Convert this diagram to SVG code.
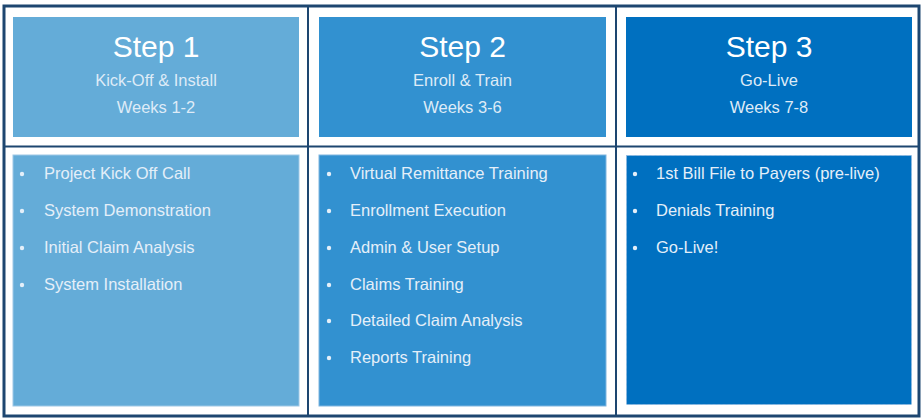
<svg xmlns="http://www.w3.org/2000/svg" width="924" height="420" viewBox="0 0 924 420">
<style>
.frame{fill:none;stroke:#1d4670;}
.hdr text,.body text{font-family:"Liberation Sans",Arial,sans-serif;}
.title{font-size:30px;fill:#ffffff;text-anchor:middle;}
.sub{font-size:16.5px;fill:#deebf7;text-anchor:middle;}
.item{font-size:16.5px;fill:#e4eff9;}
.dot{fill:#e4eff9;}
.c1{fill:#64acd8;}
.c2{fill:#3291d0;}
.c3{fill:#0070c0;}
</style>
<rect x="0" y="0" width="924" height="420" fill="#ffffff"/>
<g id="grid">
<rect class="frame" x="4" y="6" width="915" height="410" stroke-width="3"/>
<line class="frame" x1="4" y1="146.5" x2="919" y2="146.5" stroke-width="2"/>
<line class="frame" x1="308" y1="6" x2="308" y2="416" stroke-width="2"/>
<line class="frame" x1="616" y1="6" x2="616" y2="416" stroke-width="2"/>
</g>
<g id="step1-header" class="hdr">
<rect class="c1" x="13" y="17" width="286" height="120"/>
<text class="title" x="156" y="57">Step 1</text>
<text class="sub" x="156" y="86">Kick-Off &amp; Install</text>
<text class="sub" x="156" y="113">Weeks 1-2</text>
</g>
<g id="step2-header" class="hdr">
<rect class="c2" x="319" y="17" width="287" height="120"/>
<text class="title" x="462.5" y="57">Step 2</text>
<text class="sub" x="462.5" y="86">Enroll &amp; Train</text>
<text class="sub" x="462.5" y="113">Weeks 3-6</text>
</g>
<g id="step3-header" class="hdr">
<rect class="c3" x="626" y="17" width="286" height="120"/>
<text class="title" x="769" y="57">Step 3</text>
<text class="sub" x="769" y="86">Go-Live</text>
<text class="sub" x="769" y="113">Weeks 7-8</text>
</g>
<g id="step1-body" class="body">
<rect class="c1" x="13" y="155" width="286" height="251" stroke="#9dc8e6" stroke-width="1"/>
<circle class="dot" cx="22" cy="174" r="2.2"/>
<circle class="dot" cx="22" cy="211" r="2.2"/>
<circle class="dot" cx="22" cy="248" r="2.2"/>
<circle class="dot" cx="22" cy="285" r="2.2"/>
<text class="item" x="44" y="179">Project Kick Off Call</text>
<text class="item" x="44" y="216">System Demonstration</text>
<text class="item" x="44" y="253">Initial Claim Analysis</text>
<text class="item" x="44" y="290">System Installation</text>
</g>
<g id="step2-body" class="body">
<rect class="c2" x="319" y="155" width="287" height="251" stroke="#7fb5e0" stroke-width="1"/>
<circle class="dot" cx="329" cy="174" r="2.2"/>
<circle class="dot" cx="329" cy="211" r="2.2"/>
<circle class="dot" cx="329" cy="248" r="2.2"/>
<circle class="dot" cx="329" cy="285" r="2.2"/>
<circle class="dot" cx="329" cy="321" r="2.2"/>
<circle class="dot" cx="329" cy="358" r="2.2"/>
<text class="item" x="350" y="179">Virtual Remittance Training</text>
<text class="item" x="350" y="216">Enrollment Execution</text>
<text class="item" x="350" y="253">Admin &amp; User Setup</text>
<text class="item" x="350" y="290">Claims Training</text>
<text class="item" x="350" y="326">Detailed Claim Analysis</text>
<text class="item" x="350" y="363">Reports Training</text>
</g>
<g id="step3-body" class="body">
<rect class="c3" x="626.5" y="155.5" width="285" height="249" stroke="#8fb8e0" stroke-width="1" stroke-dasharray="3 2"/>
<circle class="dot" cx="635" cy="174" r="2.2"/>
<circle class="dot" cx="635" cy="211" r="2.2"/>
<circle class="dot" cx="635" cy="248" r="2.2"/>
<text class="item" x="656" y="179">1st Bill File to Payers (pre-live)</text>
<text class="item" x="656" y="216">Denials Training</text>
<text class="item" x="656" y="253">Go-Live!</text>
</g>
</svg>
